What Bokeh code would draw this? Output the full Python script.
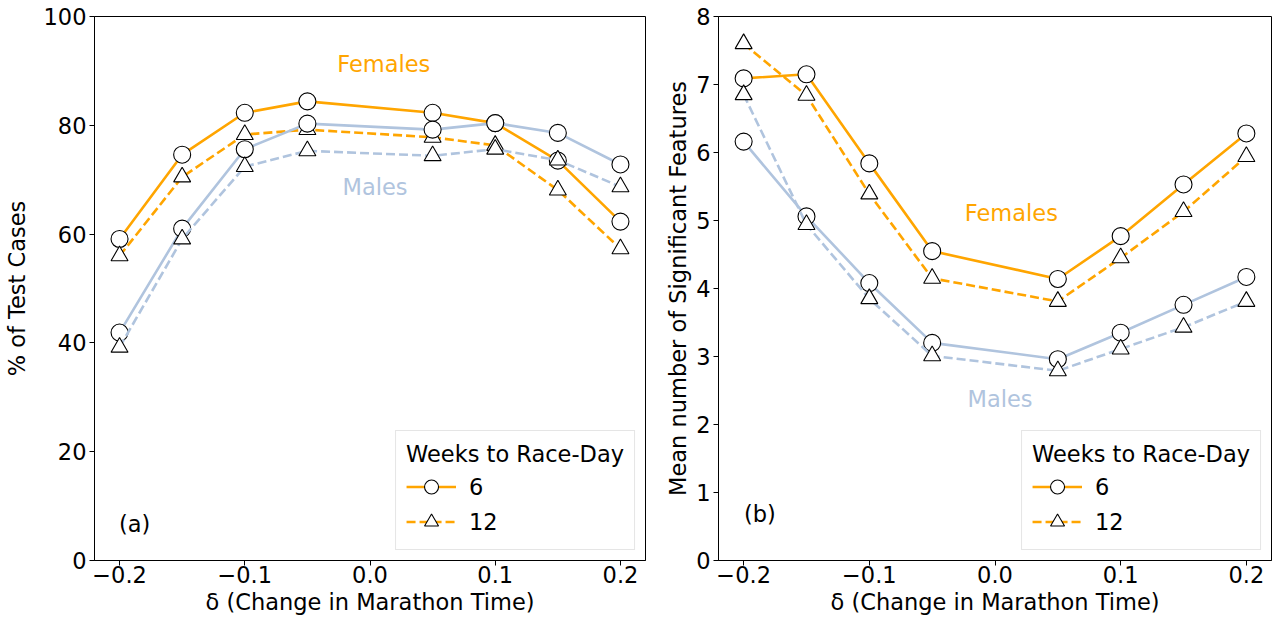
from bokeh.plotting import figure
from bokeh.layouts import row
from bokeh.models import (Legend, LegendItem, Label, FixedTicker, CustomJSTickFormatter,
                          Range1d)
from bokeh.embed import file_html
from bokeh.resources import INLINE

# ---------------- data ----------------
delta = [-0.2, -0.15, -0.1, -0.05, 0.05, 0.1, 0.15, 0.2]

pct_f6 = [59.1, 74.6, 82.3, 84.4, 82.3, 80.4, 73.5, 62.3]
pct_f12 = [56.0, 70.5, 78.3, 79.2, 77.8, 76.3, 68.1, 57.3]
pct_m6 = [41.9, 61.0, 75.6, 80.3, 79.2, 80.4, 78.6, 72.8]
pct_m12 = [39.2, 59.1, 72.4, 75.3, 74.4, 75.6, 73.6, 68.7]

feat_f6 = [7.09, 7.15, 5.84, 4.55, 4.14, 4.77, 5.53, 6.28]
feat_f12 = [7.60, 6.84, 5.39, 4.15, 3.81, 4.45, 5.13, 5.94]
feat_m6 = [6.16, 5.06, 4.08, 3.20, 2.96, 3.35, 3.76, 4.17]
feat_m12 = [6.85, 4.94, 3.85, 3.01, 2.79, 3.11, 3.43, 3.81]

x_ticks = [-0.2, -0.1, 0.0, 0.1, 0.2]
pct_ticks = [0, 20, 40, 60, 80, 100]
feat_ticks = [0, 1, 2, 3, 4, 5, 6, 7, 8]
legend_title = "Weeks to Race-Day"
legend_labels = ["6", "12"]

ORANGE = "#FFA500"
BLUE = "#B0C4DE"
FONT = "DejaVu Sans"
FS = "22.5px"


def make_fig(width, left_border, right_border, y_end, y_ticks, y_label, ylab_standoff):
    p = figure(width=width, height=617, output_backend="svg", toolbar_location=None,
               x_range=Range1d(-0.22, 0.22), y_range=Range1d(0, y_end),
               min_border_left=left_border, min_border_right=right_border,
               min_border_top=16, min_border_bottom=0)
    p.xgrid.grid_line_color = None
    p.ygrid.grid_line_color = None
    p.outline_line_color = "black"
    p.outline_line_width = 1
    p.background_fill_color = "white"
    p.border_fill_color = "white"
    p.xaxis.ticker = FixedTicker(ticks=x_ticks)
    p.xaxis.formatter = CustomJSTickFormatter(
        code="return tick.toFixed(1).replace('-', '\u2212');")
    p.yaxis.ticker = FixedTicker(ticks=y_ticks)
    p.xaxis.axis_label = "\u03b4 (Change in Marathon Time)"
    p.yaxis.axis_label = y_label
    for ax in (p.xaxis[0], p.yaxis[0]):
        ax.axis_line_color = "black"
        ax.major_tick_line_color = "black"
        ax.major_tick_in = 0
        ax.major_tick_out = 5
        ax.minor_tick_line_color = None
        ax.major_label_text_font = FONT
        ax.major_label_text_font_size = FS
        ax.major_label_text_color = "black"
        ax.axis_label_text_font = FONT
        ax.axis_label_text_font_size = FS
        ax.axis_label_text_font_style = "normal"
        ax.axis_label_text_color = "black"
    p.xaxis.major_label_standoff = 0
    p.xaxis.axis_label_standoff = 3
    p.yaxis.major_label_standoff = 3
    p.yaxis.axis_label_standoff = ylab_standoff
    return p


def add_series(p, y, color, dash, marker):
    lr = p.line(delta, y, line_color=color, line_width=2.6, line_dash=dash)
    sr = p.scatter(delta, y, marker=marker, size=17, fill_color="white",
                   line_color="black", line_width=1.1)
    return lr, sr


def add_legend(p, items):
    leg = Legend(items=[LegendItem(label=lab, renderers=list(r)) for lab, r in zip(legend_labels, items)],
                 title=legend_title, location="bottom_right", margin=10, padding=10,
                 glyph_width=50, glyph_height=35, spacing=0, label_standoff=13,
                 title_standoff=2,
                 border_line_color="#cccccc", border_line_width=1,
                 background_fill_color="white", background_fill_alpha=0.8)
    leg.title_text_font = FONT
    leg.title_text_font_size = FS
    leg.title_text_font_style = "normal"
    leg.title_text_color = "black"
    leg.label_text_font = FONT
    leg.label_text_font_size = FS
    leg.label_text_color = "black"
    p.add_layout(leg)


def add_text(p, x, y, text, color):
    p.add_layout(Label(x=x, y=y, text=text, text_color=color, text_font=FONT,
                       text_font_size=FS, text_align="center", text_baseline="middle"))


# ---------------- left panel ----------------
p1 = make_fig(648, 90, 3, 100, pct_ticks, "% of Test Cases", 11)
a1 = add_series(p1, pct_f6, ORANGE, "solid", "circle")
b1 = add_series(p1, pct_f12, ORANGE, "9 4", "triangle")
add_series(p1, pct_m6, BLUE, "solid", "circle")
add_series(p1, pct_m12, BLUE, "9 4", "triangle")
add_text(p1, 0.011, 91.3, "Females", ORANGE)
add_text(p1, 0.004, 68.6, "Males", BLUE)
add_text(p1, -0.188, 6.8, "(a)", "black")
add_legend(p1, [a1, b1])

# ---------------- right panel ----------------
p2 = make_fig(627, 70, 4, 8, feat_ticks, "Mean number of Significant Features", 2)
a2 = add_series(p2, feat_f6, ORANGE, "solid", "circle")
b2 = add_series(p2, feat_f12, ORANGE, "9 4", "triangle")
add_series(p2, feat_m6, BLUE, "solid", "circle")
add_series(p2, feat_m12, BLUE, "9 4", "triangle")
add_text(p2, 0.013, 5.11, "Females", ORANGE)
add_text(p2, 0.004, 2.37, "Males", BLUE)
add_text(p2, -0.187, 0.69, "(b)", "black")
add_legend(p2, [a2, b2])

layout = row(p1, p2)
open("out.html", "w").write(file_html(layout, INLINE))
